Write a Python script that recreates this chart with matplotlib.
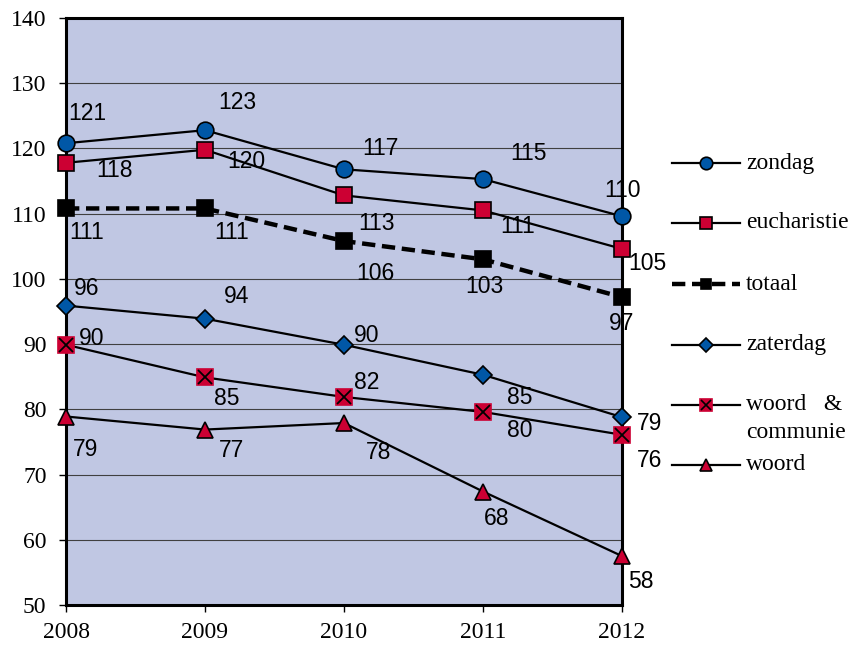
import numpy as np
import matplotlib.pyplot as plt
from matplotlib.lines import Line2D

jaren = [2008, 2009, 2010, 2011, 2012]
zondag = [120.8, 122.8, 116.8, 115.3, 109.6]
eucharistie = [117.8, 119.8, 112.8, 110.5, 104.6]
totaal = [110.8, 110.8, 105.8, 103.0, 97.2]
zaterdag = [95.9, 93.9, 89.9, 85.3, 78.8]
woord_communie = [89.9, 84.9, 81.9, 79.6, 76.1]
woord = [78.9, 76.9, 77.9, 67.4, 57.5]

lbl_zondag = [121, 123, 117, 115, 110]
lbl_eucharistie = [118, 120, 113, 111, 105]
lbl_totaal = [111, 111, 106, 103, 97]
lbl_zaterdag = [96, 94, 90, 85, 79]
lbl_woord_communie = [90, 85, 82, 80, 76]
lbl_woord = [79, 77, 78, 68, 58]

blauw = '#0057A6'
rood = '#CC0033'
achtergrond = '#C0C7E3'

fig = plt.figure(figsize=(8.54, 6.46), dpi=100)
ax = fig.add_axes([66/854, 41/646, 556/854, 587/646])
ax.set_facecolor(achtergrond)

# (naam, waarden, labels, stijl, label-offsets in pixels, legenda-markergrootte)
reeksen = [
    ('zondag', zondag, lbl_zondag, dict(color='black', lw=1.6, marker='o', ms=12, mfc=blauw, mec='black', mew=1.2),
     [(21, 30), (32, 28), (36, 21), (45, 26), (0, 26)], 9),
    ('eucharistie', eucharistie, lbl_eucharistie, dict(color='black', lw=1.6, marker='s', ms=11, mfc=rood, mec='black', mew=1.2),
     [(49, -8), (41, -12), (32, -28), (35, -16), (25, -15)], 8.5),
    ('totaal', totaal, lbl_totaal, dict(color='black', lw=3.2, ls=(0, (3, 1.5)), marker='s', ms=12, mfc='black', mec='black', mew=1.2),
     [(21, -24), (27, -24), (31, -32), (1, -27), (0, -26)], 7),
    ('zaterdag', zaterdag, lbl_zaterdag, dict(color='black', lw=1.6, marker='D', ms=9, mfc=blauw, mec='black', mew=1.2),
     [(21, 17), (32, 22), (23, 9), (37, -23), (28, -6)], 7),
    ('woord   &\ncommunie', woord_communie, lbl_woord_communie, dict(color='black', lw=1.6, marker='s', ms=11, mfc=rood, mec=rood, mew=1.2),
     [(26, 6), (22, -21), (23, 14), (37, -19), (28, -26)], 8),
    ('woord', woord, lbl_woord, dict(color='black', lw=1.6, marker='^', ms=11, mfc=rood, mec='black', mew=1.2),
     [(20, -33), (27, -21), (35, -29), (14, -27), (19, -25)], 9),
]

for naam, waarden, labels, stijl, offsets, lms in reeksen:
    ax.plot(jaren, waarden, clip_on=False, zorder=3, **stijl)
    if naam.startswith('woord   &'):
        # kruis in het vierkantje
        ax.plot(jaren, waarden, ls='none', marker='x', ms=10, mec='black', mew=1.3, clip_on=False, zorder=4)
    for x, y, t, (dx, dy) in zip(jaren, waarden, labels, offsets):
        ax.annotate(str(t), (x, y), xytext=(dx, dy), textcoords='offset pixels',
                    ha='center', va='center', fontsize=16.5, family='Liberation Sans', zorder=5)

ax.set_xlim(2008, 2012)
ax.set_ylim(50, 140)
ax.set_xticks(jaren)
ax.set_yticks(np.arange(50, 141, 10))
ax.yaxis.grid(True, color='#404040', lw=0.8)
ax.set_axisbelow(True)
for lab in ax.get_xticklabels() + ax.get_yticklabels():
    lab.set_family('Liberation Serif')
    lab.set_fontsize(17)
ax.tick_params(axis='both', length=5, width=1, direction='out')
ax.tick_params(axis='y', pad=9)
ax.tick_params(axis='x', pad=7)
for s in ['left', 'bottom', 'right', 'top']:
    ax.spines[s].set_linewidth(2.2)

# legenda handmatig
leg_y = [163, 223, 284, 345, 405, 465]
for (naam, waarden, labels, stijl, offsets, lms), py in zip(reeksen, leg_y):
    yf = 1 - py / 646
    ln = Line2D([672/854, 740/854], [yf, yf], transform=fig.transFigure,
                color=stijl['color'], lw=stijl['lw'], ls=stijl.get('ls', '-'))
    fig.add_artist(ln)
    fig.add_artist(Line2D([706/854], [yf], transform=fig.transFigure, ls='none',
                          marker=stijl['marker'], ms=lms, mfc=stijl['mfc'], mec=stijl['mec'], mew=stijl['mew']))
    if naam.startswith('woord   &'):
        fig.add_artist(Line2D([706/854], [yf], transform=fig.transFigure, ls='none',
                              marker='x', ms=7, mec='black', mew=1.2))
        regels = naam.split('\n')
        fig.text(746/854, yf, regels[0], ha='left', va='center',
                 fontsize=17, family='Liberation Serif')
        fig.text(746/854, 1 - (py + 27) / 646, regels[1], ha='left', va='center',
                 fontsize=17, family='Liberation Serif')
    else:
        fig.text(746/854, yf, naam, ha='left', va='center',
                 fontsize=17, family='Liberation Serif')

fig.savefig('out.png', dpi=100)
